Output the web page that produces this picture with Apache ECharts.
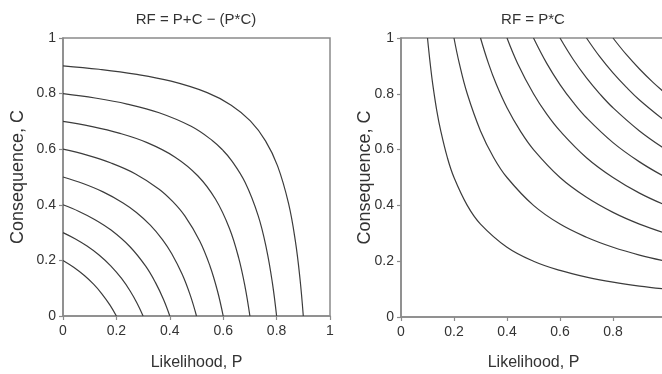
<!DOCTYPE html>
<html>
<head>
<meta charset="utf-8">
<script src="https://cdn.jsdelivr.net/npm/echarts@6/dist/echarts.min.js"></script>
<style>
  html, body {margin: 0; padding: 0; background: #fff;}
  #chart {width: 662px; height: 374px;}
</style>
</head>
<body>
<div id="chart"></div>
<script>
// tick labels shared by both panels
const ticks = [0, 0.2, 0.4, 0.6, 0.8, 1]

// left panel, RF = P+C-(P*C): [P, C] points
const sum20 = [[0, 0.2], [0.04, 0.1754], [0.08, 0.1456], [0.1144, 0.1144], [0.1456, 0.08], [0.1754, 0.04], [0.2, 0]]
const sum30 = [[0, 0.3], [0.045, 0.2779], [0.09, 0.2515], [0.135, 0.2193], [0.1796, 0.1796], [0.2193, 0.135], [0.2515, 0.09], [0.2779, 0.045], [0.3, 0]]
const sum40 = [[0, 0.4], [0.06, 0.3761], [0.12, 0.3465], [0.18, 0.309], [0.25, 0.25], [0.309, 0.18], [0.3465, 0.12], [0.3761, 0.06], [0.4, 0]]
const sum50 = [[0, 0.5], [0.075, 0.4765], [0.15, 0.4464], [0.225, 0.4068], [0.275, 0.3725], [0.327, 0.327], [0.3725, 0.275], [0.4068, 0.225], [0.4464, 0.15], [0.4765, 0.075], [0.5, 0]]
const sum60 = [[0, 0.6], [0.09, 0.5786], [0.18, 0.5504], [0.27, 0.512], [0.36, 0.4563], [0.4114, 0.4114], [0.4563, 0.36], [0.512, 0.27], [0.5504, 0.18], [0.5786, 0.09], [0.6, 0]]
const sum70 = [[0, 0.7], [0.105, 0.6819], [0.21, 0.6577], [0.315, 0.6235], [0.42, 0.5714], [0.5046, 0.5046], [0.5714, 0.42], [0.6235, 0.315], [0.6577, 0.21], [0.6819, 0.105], [0.7, 0]]
const sum80 = [[0, 0.8], [0.12, 0.7841], [0.24, 0.7624], [0.36, 0.7312], [0.48, 0.6823], [0.56, 0.6307], [0.5974, 0.5974], [0.6307, 0.56], [0.6823, 0.48], [0.7312, 0.36], [0.7624, 0.24], [0.7841, 0.12], [0.8, 0]]
const sum90 = [[0, 0.9], [0.135, 0.8875], [0.27, 0.8702], [0.405, 0.8447], [0.54, 0.8036], [0.63, 0.7584], [0.7016, 0.7016], [0.7584, 0.63], [0.8036, 0.54], [0.8447, 0.405], [0.8702, 0.27], [0.8875, 0.135], [0.9, 0]]

// right panel, RF = P*C
const prod10 = [[0.1, 1], [0.11, 0.91], [0.12, 0.833], [0.135, 0.74], [0.15, 0.667], [0.175, 0.571], [0.2, 0.5], [0.25, 0.4], [0.3, 0.333], [0.4, 0.25], [0.5, 0.2], [0.6, 0.167], [0.7, 0.143], [0.8, 0.125], [0.9, 0.111], [1, 0.1]]
const prod20 = [[0.2, 1], [0.22, 0.909], [0.25, 0.8], [0.3, 0.667], [0.35, 0.571], [0.4, 0.5], [0.5, 0.4], [0.6, 0.333], [0.7, 0.286], [0.8, 0.25], [0.9, 0.222], [1, 0.2]]
const prod30 = [[0.3, 1], [0.33, 0.909], [0.36, 0.833], [0.4, 0.75], [0.45, 0.667], [0.5, 0.6], [0.6, 0.5], [0.7, 0.429], [0.8, 0.375], [0.9, 0.333], [1, 0.3]]
const prod40 = [[0.4, 1], [0.44, 0.909], [0.5, 0.8], [0.55, 0.727], [0.6, 0.667], [0.7, 0.571], [0.8, 0.5], [0.9, 0.444], [1, 0.4]]
const prod50 = [[0.5, 1], [0.55, 0.909], [0.6, 0.833], [0.65, 0.769], [0.7, 0.714], [0.8, 0.625], [0.9, 0.556], [1, 0.5]]
const prod60 = [[0.6, 1], [0.65, 0.923], [0.7, 0.857], [0.75, 0.8], [0.8, 0.75], [0.9, 0.667], [1, 0.6]]
const prod70 = [[0.7, 1], [0.75, 0.933], [0.8, 0.875], [0.85, 0.824], [0.9, 0.778], [1, 0.7]]
const prod80 = [[0.8, 1], [0.85, 0.941], [0.9, 0.889], [0.95, 0.842], [1, 0.8]]

const leftCurves = [sum20, sum30, sum40, sum50, sum60, sum70, sum80, sum90]
const rightCurves = [prod10, prod20, prod30, prod40, prod50, prod60, prod70, prod80]

const font = '"Liberation Sans", Arial, sans-serif'
const axisColor = '#8a8a8a'
const lineColor = '#3c3c3c'

const makeAxis = (gridIndex, name, nameGap, nameSize, isY) => ({
    type: 'value',
    gridIndex,
    min: ticks[0],
    max: ticks[ticks.length - 1],
    interval: 0.2,
    name,
    nameLocation: 'middle',
    nameGap,
    nameMoveOverlap: false,
    nameTextStyle: {fontFamily: font, fontSize: nameSize, color: '#333'},
    splitLine: {show: false},
    axisLine: {show: true, lineStyle: {color: axisColor, width: 1.5}},
    axisTick: {show: true, length: 4, lineStyle: {color: axisColor, width: 1.2}},
    axisLabel: {
        fontFamily: font,
        fontSize: 14,
        color: '#333',
        margin: isY ? 7 : 8,
        formatter: v => String(+v.toFixed(1))
    }
})

const curveSeries = (curves, idx) => curves.map(c => ({
    type: 'line',
    xAxisIndex: idx,
    yAxisIndex: idx,
    data: c,
    showSymbol: false,
    smooth: 0.4,
    silent: true,
    lineStyle: {color: lineColor, width: 1.2}
}))

const myChart = echarts.init(document.getElementById('chart'), null, {renderer: 'canvas'})
myChart.setOption({
    animation: false,
    backgroundColor: '#fff',
    title: [
        {text: 'RF = P+C − (P*C)', left: 196, top: 12, textAlign: 'center', padding: 0,
            textStyle: {fontFamily: font, fontSize: 15, fontWeight: 'normal', color: '#333'}},
        {text: 'RF = P*C', left: 533, top: 12, textAlign: 'center', padding: 0,
            textStyle: {fontFamily: font, fontSize: 15, fontWeight: 'normal', color: '#333'}}
    ],
    grid: [
        {left: 63, top: 38, width: 267, height: 278, show: true, borderColor: axisColor, borderWidth: 1.5,
            outerBoundsMode: 'none', containLabel: false},
        {left: 401, top: 38, width: 265, height: 279, show: true, borderColor: axisColor, borderWidth: 1.5,
            outerBoundsMode: 'none', containLabel: false}
    ],
    xAxis: [
        makeAxis(0, 'Likelihood, P', 39, 16, false),
        makeAxis(1, 'Likelihood, P', 38, 16, false)
    ],
    yAxis: [
        makeAxis(0, 'Consequence, C', 36, 18, true),
        makeAxis(1, 'Consequence, C', 27, 18, true)
    ],
    series: [...curveSeries(leftCurves, 0), ...curveSeries(rightCurves, 1)]
})
</script>
</body>
</html>
